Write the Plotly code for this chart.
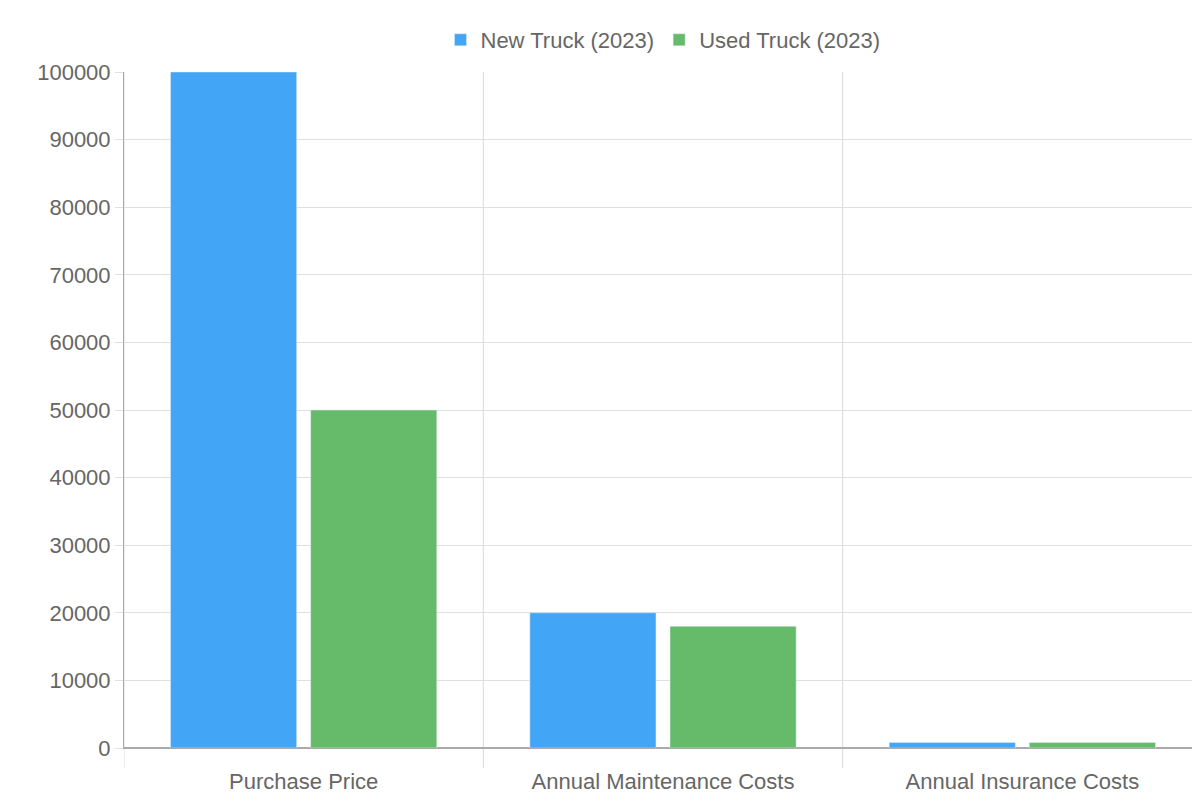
import plotly.graph_objects as go

categories = ["Purchase Price", "Annual Maintenance Costs", "Annual Insurance Costs"]
new_truck = [100000, 20000, 800]
used_truck = [50000, 18000, 800]

fig = go.Figure()
fig.add_trace(go.Bar(name="New Truck (2023)", x=categories, y=new_truck, marker_color="#42A5F5"))
fig.add_trace(go.Bar(name="Used Truck (2023)", x=categories, y=used_truck, marker_color="#66BB6A"))

# vertical category grid lines + ticks below axis (chart.js style)
for xv in [-0.5, 0.5, 1.5, 2.5]:
    fig.add_shape(type="line", xref="x", yref="paper", x0=xv, x1=xv, y0=-0.03, y1=1,
                  line=dict(color="#d9d9d9", width=1), layer="below")

fig.update_layout(
    width=1200, height=800,
    margin=dict(l=116, r=6, t=64, b=60, autoexpand=False),
    plot_bgcolor="white", paper_bgcolor="white",
    font=dict(family="Liberation Sans, Arial", size=22, color="#666"),
    barmode="group", bargap=0.22, bargroupgap=0.1,
    legend=dict(orientation="h", x=0.5, xanchor="center", yref="container", y=0.96,
                yanchor="middle", font=dict(size=22, color="#666")),
    xaxis=dict(showgrid=False, linecolor="#aaa", showline=True, ticks="", range=[-0.5, 2.5],
               automargin=False, ticklabelstandoff=14),
    yaxis=dict(range=[0, 100000], dtick=10000, gridcolor="#e0e0e0", showline=True,
               linecolor="#aaa", zeroline=True, zerolinecolor="#aaa", ticks="outside",
               ticklen=8, tickcolor="#e0e0e0", tickformat="d", automargin=False),
)
fig.write_html("out.html")
